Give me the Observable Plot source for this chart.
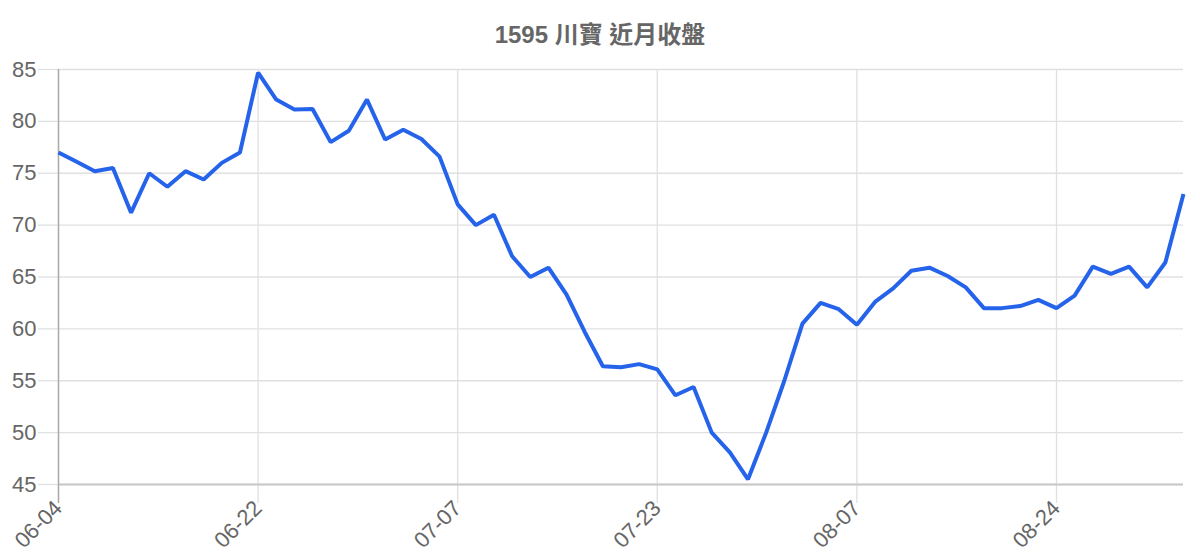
<!DOCTYPE html>
<html>
<head>
<meta charset="utf-8">
<script src="https://cdn.jsdelivr.net/npm/d3@7"></script>
<script src="https://cdn.jsdelivr.net/npm/@observablehq/plot@0.6"></script>
<style>
  html, body { margin: 0; padding: 0; background: #fff; }
  body { width: 1200px; font-family: "Liberation Sans", Arial, "Noto Sans CJK TC", sans-serif; }
  #title { height: 40px; line-height: 70px; text-align: center; font-size: 24px; font-weight: bold; color: #666;
           font-family: "Liberation Sans", Arial, "Noto Sans CJK TC", sans-serif; overflow: visible; white-space: nowrap; }
</style>
</head>
<body>
<div id="title">1595 川寶 近月收盤</div>
<div id="chart"></div>
<script>
// closing prices, one per trading day
const closes = [
  77.0, 76.1, 75.2, 75.5, 71.2, 75.0, 73.7, 75.2, 74.4, 76.0,
  77.0, 84.7, 82.1, 81.15, 81.2, 78.0, 79.1, 82.1, 78.25, 79.2,
  78.3, 76.6, 72.0, 70.0, 71.0, 67.0, 65.0, 65.9, 63.3, 59.7,
  56.4, 56.3, 56.6, 56.1, 53.6, 54.4, 50.0, 48.1, 45.5, 50.0,
  55.0, 60.5, 62.5, 61.9, 60.4, 62.6, 63.9, 65.6, 65.9, 65.1,
  64.0, 62.0, 62.0, 62.2, 62.8, 62.0, 63.2, 66.0, 65.3, 66.0,
  64.0, 66.4, 73.0
];
// x-axis tick positions (trading-day index) and their labels
const tickIndex = [0, 11, 22, 33, 44, 55];
const tickLabels = ["06-04", "06-22", "07-07", "07-23", "08-07", "08-24"];
const yTicks = [45, 50, 55, 60, 65, 70, 75, 80, 85];

const data = closes.map((v, i) => ({i, v}));
const labelOf = new Map(tickIndex.map((t, k) => [t, tickLabels[k]]));

const chart = Plot.plot({
  width: 1200,
  height: 520,
  marginTop: 29,
  marginBottom: 76,
  marginLeft: 58,
  marginRight: 17,
  style: {fontFamily: "'Liberation Sans', Arial, sans-serif", color: "#666", background: "#fff", overflow: "visible"},
  x: {domain: [0, closes.length - 1]},
  y: {domain: [45, 85]},
  marks: [
    Plot.gridY(yTicks, {stroke: "#e0e0e0", strokeOpacity: 1, strokeWidth: 1.3}),
    Plot.gridX(tickIndex, {stroke: "#e0e0e0", strokeOpacity: 1, strokeWidth: 1.3}),
    Plot.axisY(yTicks, {tickSize: 20, tickPadding: 2, stroke: "#e0e0e0", strokeOpacity: 1, strokeWidth: 1.3, fontSize: 22, fill: "#666", label: null}),
    Plot.axisX(tickIndex, {tickSize: 19, tickPadding: 1, tickRotate: -45, stroke: "#e0e0e0", strokeOpacity: 1, strokeWidth: 1.3, fontSize: 22, fill: "#666",
      tickFormat: d => labelOf.get(d), label: null}),
    Plot.ruleY([45], {stroke: "#c8c8c8", strokeWidth: 2}),
    Plot.ruleX([0], {stroke: "#aaa", strokeWidth: 1.5, insetBottom: -19}),
    Plot.line(data, {x: "i", y: "v", stroke: "#2563eb", strokeWidth: 4, strokeLinejoin: "miter", strokeLinecap: "butt"})
  ]
});
document.getElementById("chart").appendChild(chart);
</script>
</body>
</html>
